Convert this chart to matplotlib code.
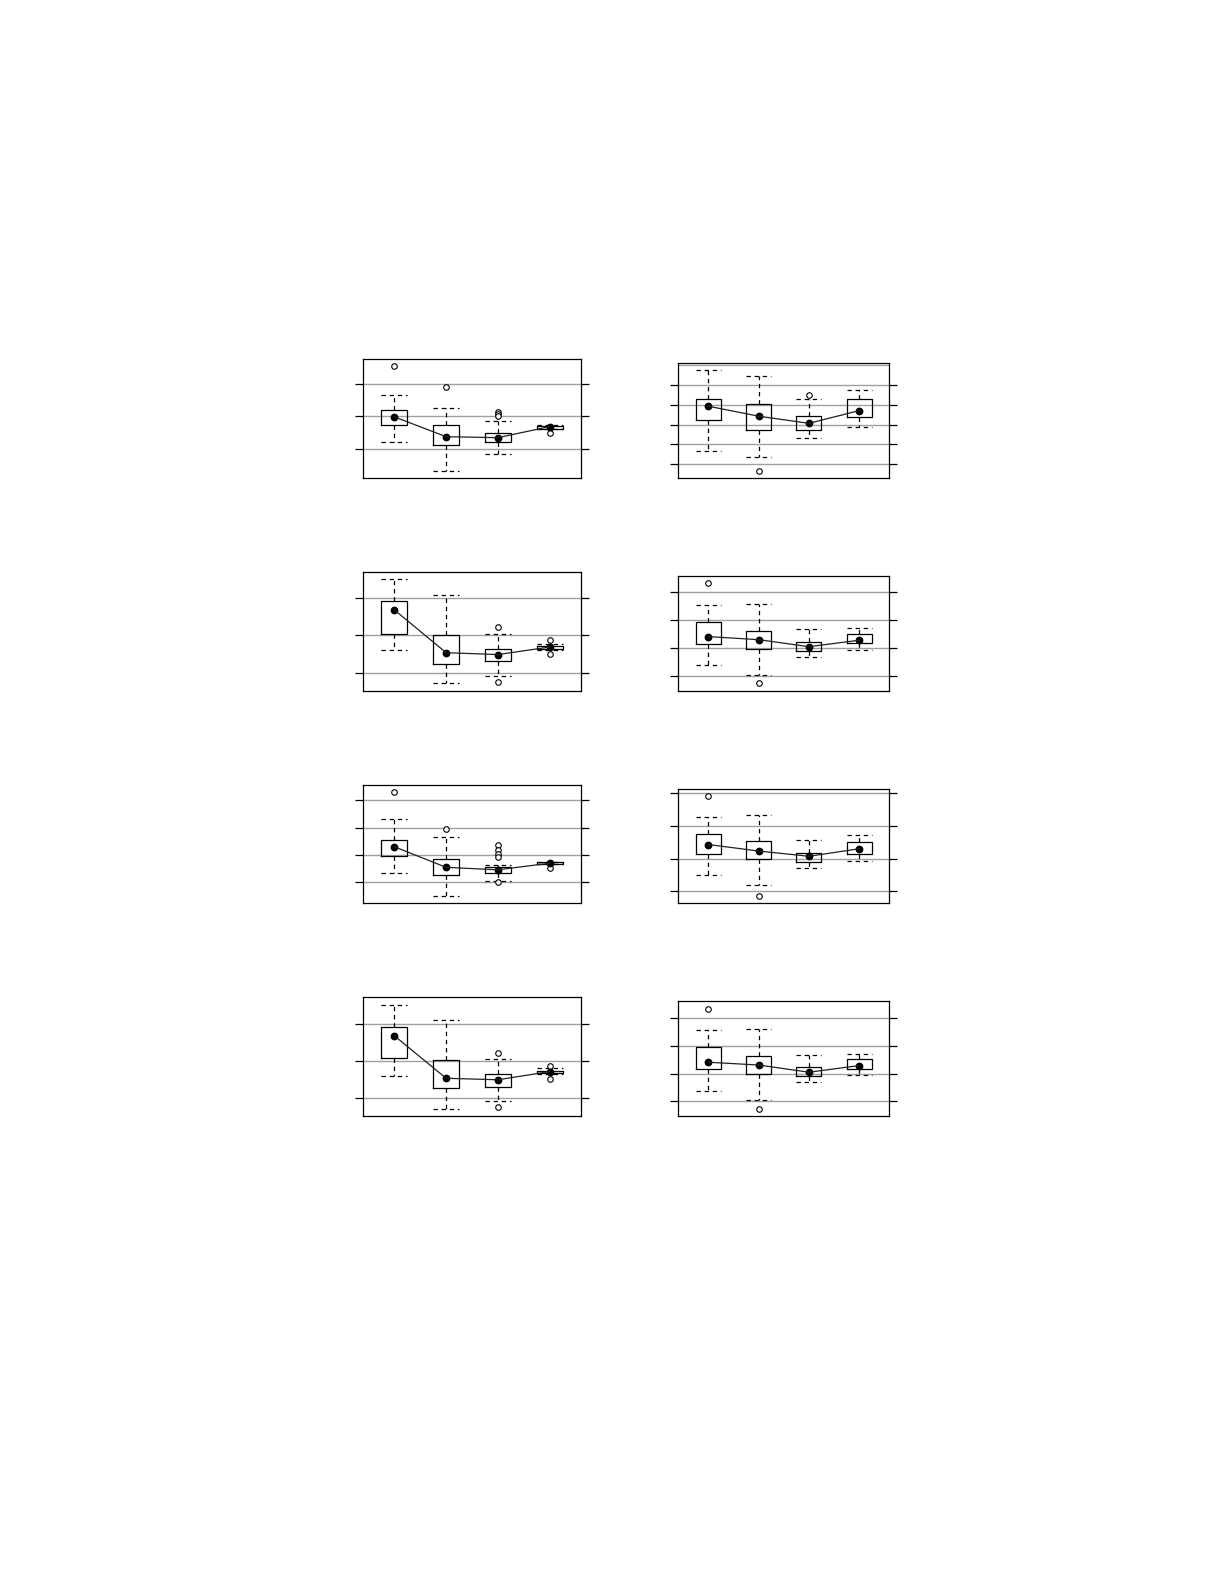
import matplotlib
matplotlib.use("Agg")
import matplotlib.pyplot as plt

# panel order: left/right for rows 1..4
positions = [1, 2, 3, 4]

means = [
    [1.98, 1.37, 1.34, 1.68],
    [3.92, 3.42, 3.06, 3.70],
    [2.68, 1.54, 1.49, 1.69],
    [2.42, 2.31, 2.06, 2.29],
    [2.30, 1.55, 1.46, 1.70],
    [2.43, 2.23, 2.07, 2.30],
    [2.69, 1.54, 1.50, 1.72],
    [2.41, 2.31, 2.05, 2.29],
]
q1 = [
    [1.72, 1.11, 1.20, 1.62],
    [3.21, 2.71, 2.71, 3.37],
    [2.05, 1.25, 1.31, 1.65],
    [2.14, 1.96, 1.89, 2.18],
    [1.95, 1.26, 1.33, 1.66],
    [2.13, 1.98, 1.89, 2.13],
    [2.08, 1.27, 1.30, 1.67],
    [2.16, 1.98, 1.90, 2.16],
]
q3 = [
    [2.18, 1.72, 1.48, 1.70],
    [4.27, 4.02, 3.42, 4.27],
    [2.91, 2.00, 1.63, 1.72],
    [2.93, 2.61, 2.21, 2.50],
    [2.53, 1.87, 1.55, 1.75],
    [2.74, 2.53, 2.16, 2.50],
    [2.92, 2.03, 1.65, 1.75],
    [2.95, 2.63, 2.23, 2.52],
]
whisk_lo = [
    [1.20, 0.31, 0.83, 1.60],
    [1.65, 1.35, 2.31, 2.86],
    [1.61, 0.73, 0.93, 1.61],
    [1.40, 1.04, 1.68, 1.93],
    [1.36, 0.49, 1.04, 1.66],
    [1.50, 1.18, 1.70, 1.92],
    [1.60, 0.70, 0.92, 1.65],
    [1.36, 1.04, 1.69, 1.94],
]
whisk_hi = [
    [2.64, 2.25, 1.86, 1.74],
    [5.73, 5.43, 4.27, 4.72],
    [3.49, 3.07, 2.05, 1.78],
    [3.54, 3.57, 2.68, 2.71],
    [3.31, 2.65, 1.62, 1.75],
    [3.27, 3.33, 2.56, 2.71],
    [3.51, 3.11, 2.05, 1.81],
    [3.57, 3.60, 2.66, 2.70],
]
fliers = [
    [[3.53], [2.91], [2.13, 2.07, 2.00], [1.48]],
    [[], [0.66], [4.51], []],
    [[], [], [2.22, 0.76], [1.88, 1.50]],
    [[4.32], [0.75], [], []],
    [[4.30], [2.96], [2.35, 2.17, 2.04, 1.94, 1.02], [1.51]],
    [[3.91], [0.85], [], []],
    [[], [], [2.23, 0.76], [1.88, 1.53]],
    [[4.35], [0.71], [], []],
]
grid_levels = [
    [1, 2, 3],
    [1, 2, 3, 4, 5, 6],
    [1, 2, 3],
    [1, 2, 3, 4],
    [1, 2, 3, 4],
    [1, 2, 3, 4],
    [1, 2, 3],
    [1, 2, 3, 4],
]
tick_levels = [
    [1, 2, 3],
    [1, 2, 3, 4, 5],
    [1, 2, 3],
    [1, 2, 3, 4],
    [1, 2, 3, 4],
    [1, 2, 3, 4],
    [1, 2, 3],
    [1, 2, 3, 4],
]
ylims = [
    (0.10, 3.75),
    (0.31, 6.08),
    (0.52, 3.68),
    (0.48, 4.57),
    (0.25, 4.54),
    (0.64, 4.12),
    (0.52, 3.73),
    (0.47, 4.61),
]

W, H = 1225, 1585
fig = plt.figure(figsize=(W / 100, H / 100), dpi=100)

# frame boxes in pixels
left_x = (363.3, 580.7)
right_x = (678.3, 889.3)
left_tops = [359.3, 572.3, 785.3, 997.3]
right_tops = [363.3, 576.3, 789.3, 1001.3]
bottoms = [478, 691, 903, 1116]

for i in range(8):
    row, col = divmod(i, 2)
    x0, x1 = left_x if col == 0 else right_x
    top = left_tops[row] if col == 0 else right_tops[row]
    bot = bottoms[row]
    ax = fig.add_axes([x0 / W, 1 - bot / H, (x1 - x0) / W, (bot - top) / H])

    stats = []
    for j in range(4):
        stats.append(dict(med=means[i][j], mean=means[i][j], q1=q1[i][j], q3=q3[i][j],
                          whislo=whisk_lo[i][j], whishi=whisk_hi[i][j],
                          fliers=fliers[i][j]))

    for g in grid_levels[i]:
        ax.axhline(g, color="#a0a0a0", lw=1.0, zorder=0)

    ax.bxp(stats, positions=positions, widths=0.5, capwidths=0.5,
           showmeans=True, patch_artist=False,
           boxprops=dict(color="black", lw=0.9),
           whiskerprops=dict(color="black", lw=0.9, linestyle=(0, (3.5, 3))),
           capprops=dict(color="black", lw=0.9, linestyle=(0, (3.5, 3))),
           medianprops=dict(lw=0),
           meanprops=dict(marker="o", markerfacecolor="black", markeredgecolor="black",
                          markersize=4.6),
           flierprops=dict(marker="o", markerfacecolor="white", markeredgecolor="black",
                           markersize=4.0, markeredgewidth=0.8))
    ax.plot(positions, means[i], color="#202020", lw=0.9, zorder=3)

    ax.set_xlim(0.4, 4.6)
    ax.set_ylim(*ylims[i])
    ax.set_xticks([])
    ax.set_yticks(tick_levels[i])
    ax.set_yticklabels([])
    ax.tick_params(axis="y", direction="out", length=6, width=0.9, color="black",
                   left=True, right=True)
    for s in ax.spines.values():
        s.set_linewidth(0.9)
        s.set_color("black")

fig.savefig("out.png", dpi=100, facecolor="white")
